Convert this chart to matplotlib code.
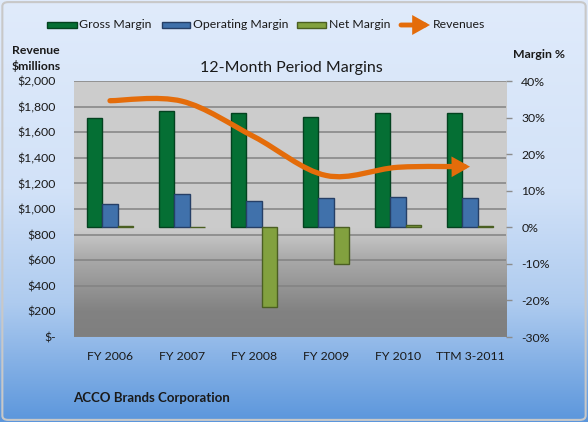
import numpy as np
import matplotlib
matplotlib.use("Agg")
import matplotlib.pyplot as plt
from matplotlib.path import Path
from matplotlib.patches import FancyArrowPatch, Rectangle, FancyBboxPatch
from matplotlib.colors import LinearSegmentedColormap

# ---------------- data ----------------
categories = ["FY 2006", "FY 2007", "FY 2008", "FY 2009", "FY 2010", "TTM 3-2011"]
gross_margin = [29.9, 31.9, 31.2, 30.1, 31.2, 31.2]
operating_margin = [6.4, 9.0, 7.1, 7.9, 8.4, 8.1]
net_margin = [0.3, 0.1, -21.7, -10.0, 0.7, 0.45]
revenues = [1846, 1842, 1565, 1262, 1326, 1331]
revenue_ticks = [0, 200, 400, 600, 800, 1000, 1200, 1400, 1600, 1800, 2000]
margin_ticks = [-30, -20, -10, 0, 10, 20, 30, 40]
series_names = ["Gross Margin", "Operating Margin", "Net Margin", "Revenues"]

# ---------------- style ----------------
FONT = ["Lato", "DejaVu Sans"]
plt.rcParams["font.family"] = FONT
W, H = 588, 422
C_GROSS, E_GROSS = "#056f34", "#03421f"
C_OP, E_OP = "#4071ab", "#263f66"
C_NET, E_NET = "#82a13f", "#4b5f22"
C_REV = "#e46c0a"
TXT = "#1a1a1a"
FS = 8.8

fig = plt.figure(figsize=(W / 100, H / 100), dpi=100)

def fx(x):
    return x / W

def fy(y):
    return 1 - y / H

# figure background gradient
bg = fig.add_axes([0, 0, 1, 1], zorder=-10)
bg_cmap = LinearSegmentedColormap.from_list(
    "bg", [(0, "#e0ebfb"), (0.45, "#d2e2f8"), (0.72, "#aecbef"), (1.0, "#5b96dc")])
bg.imshow(np.linspace(0, 1, 256).reshape(-1, 1), cmap=bg_cmap, aspect="auto",
          extent=[0, 1, 0, 1], transform=bg.transAxes)
bg.set_axis_off()
fig.patches.append(FancyBboxPatch((0.004, 0.005), 0.992, 0.99, boxstyle="round,pad=0,rounding_size=0.01",
                                  transform=fig.transFigure, facecolor="none",
                                  edgecolor="#c8c8c8", lw=1.5))

# main axes (revenue)
ax = fig.add_axes([fx(74), 1 - 337 / H, 432 / W, 256 / H])
ax.set_xlim(-0.5, 5.5)
ax.set_ylim(0, 2000)
pa_cmap = LinearSegmentedColormap.from_list(
    "pa", [(0, "#7f7f7f"), (0.10, "#828282"), (0.30, "#a9a9a9"), (0.42, "#cbcbcb"), (1.0, "#cdcdcd")])
ax.imshow(np.linspace(1, 0, 256).reshape(-1, 1), cmap=pa_cmap, aspect="auto",
          extent=[0, 1, 0, 1], transform=ax.transAxes, zorder=0)
ax.set_yticks(revenue_ticks)
ax.set_yticklabels(["$-" if v == 0 else f"${v:,}" for v in revenue_ticks])
ax.grid(axis="y", color="#828282", lw=1.1, zorder=0.5)
ax.set_axisbelow(True)
ax.tick_params(axis="y", length=0, pad=13, labelsize=FS, labelcolor=TXT)
ax.set_xticks(range(len(categories)))
ax.set_xticklabels(categories)
ax.tick_params(axis="x", length=0, pad=10, labelsize=FS, labelcolor=TXT)
for s in ax.spines.values():
    s.set_visible(False)

# secondary axes (margins)
ax2 = ax.twinx()
ax2.set_ylim(-30, 40)
ax2.set_yticks(margin_ticks)
ax2.set_yticklabels([f"{v}%" for v in margin_ticks])
ax2.tick_params(axis="y", length=4, width=1, color="#8c8c8c", pad=7, labelsize=FS, labelcolor=TXT)
for s in ax2.spines.values():
    s.set_visible(False)

x = np.arange(len(categories))
w = 0.217
ax2.bar(x - w, gross_margin, w, color=C_GROSS, edgecolor=E_GROSS, lw=1.0, zorder=3)
ax2.bar(x, operating_margin, w, color=C_OP, edgecolor=E_OP, lw=1.0, zorder=3)
ax2.bar(x + w, net_margin, w, color=C_NET, edgecolor=E_NET, lw=1.0, zorder=3)

# revenue smoothed line (Excel-style Bezier smoothing) with arrow head
pts = np.column_stack([x.astype(float), np.array(revenues, dtype=float)])
n = len(pts)
verts = [tuple(pts[0])]
codes = [Path.MOVETO]
for i in range(n - 1):
    p_prev = pts[i - 1] if i > 0 else pts[i]
    p_next2 = pts[i + 2] if i + 2 < n else pts[i + 1]
    c1 = pts[i] + (pts[i + 1] - p_prev) / 6
    c2 = pts[i + 1] - (p_next2 - pts[i]) / 6
    verts += [tuple(c1), tuple(c2), tuple(pts[i + 1])]
    codes += [Path.CURVE4] * 3
rev_path = Path(verts, codes)
arrow = FancyArrowPatch(path=rev_path, arrowstyle="-|>,head_length=0.75,head_width=0.42",
                        mutation_scale=10, color=C_REV, lw=3.8, shrinkA=0, shrinkB=0,
                        transform=ax.transData, zorder=6, capstyle="round", joinstyle="miter")
ax2.add_artist(arrow)

# ---------------- texts ----------------
fig.text(fx(291), fy(68), "12-Month Period Margins", ha="center", va="center", fontsize=11.5, color=TXT)
fig.text(fx(12), fy(51), "Revenue", ha="left", va="center", fontsize=FS, fontweight="bold", color=TXT)
fig.text(fx(12), fy(66), "$millions", ha="left", va="center", fontsize=FS, fontweight="bold", color=TXT)
fig.text(fx(513), fy(55), "Margin %", ha="left", va="center", fontsize=FS, fontweight="bold", color=TXT)
fig.text(fx(73), fy(398), "ACCO Brands Corporation", ha="left", va="center", fontsize=9.5,
         fontweight="bold", color=TXT)

# ---------------- legend ----------------
leg_y = 25
leg_items = [
    (47, 77, 79, C_GROSS, E_GROSS),
    (162, 190, 193, C_OP, E_OP),
    (297, 326, 329, C_NET, E_NET),
]
for (x0, x1, tx, fc, ec), name in zip(leg_items, series_names[:3]):
    fig.patches.append(Rectangle((fx(x0), fy(leg_y + 3)), (x1 - x0) / W, 6 / H,
                                 transform=fig.transFigure, facecolor=fc, edgecolor=ec, lw=1.0))
    fig.text(fx(tx), fy(leg_y), name, ha="left", va="center", fontsize=FS, color=TXT)
fig.patches.append(FancyArrowPatch((fx(401), fy(leg_y)), (fx(430), fy(leg_y)),
                                   transform=fig.transFigure,
                                   arrowstyle="-|>,head_length=0.75,head_width=0.42",
                                   mutation_scale=10, color=C_REV, lw=3.5, shrinkA=0, shrinkB=0,
                                   joinstyle="miter"))
fig.text(fx(433), fy(leg_y), series_names[3], ha="left", va="center", fontsize=FS, color=TXT)

fig.savefig("out.png", dpi=100)
